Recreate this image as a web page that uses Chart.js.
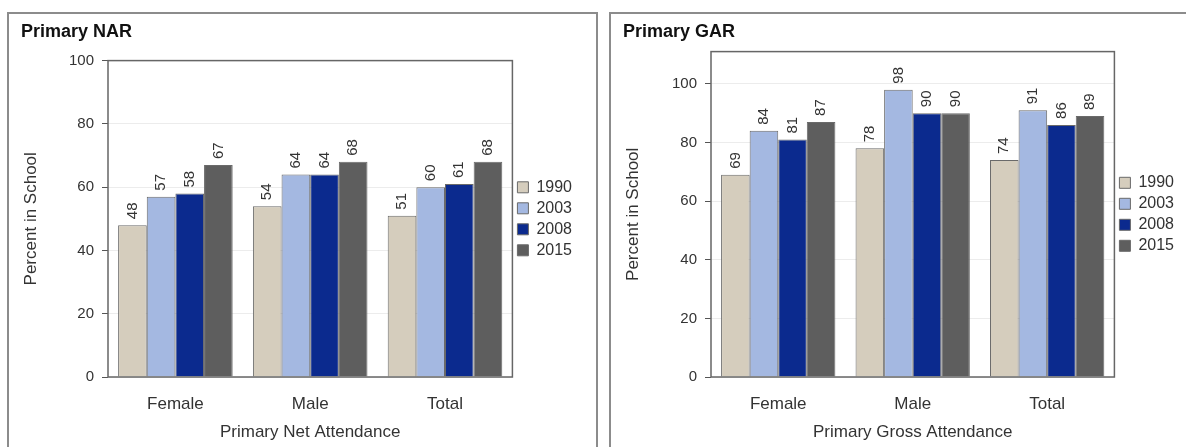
<!DOCTYPE html>
<html lang="en">
<head>
  <meta charset="UTF-8">
  <title>Primary NAR and GAR</title>

  <!-- Chart.js CDN -->
  <script src="https://cdn.jsdelivr.net/npm/chart.js"></script>

  <style>
    body {
      margin: 0;
      width: 1186px;
      height: 447px;
      overflow: hidden;
      position: relative;
      background: #ffffff;
      font-family: 'Liberation Sans', Arial, sans-serif;
    }
    .panel {
      position: absolute;
      top: 12px;
      height: 470px;
      border: 2px solid #8c8c8c;
      box-sizing: border-box;
      background: #ffffff;
    }
    .panel canvas {
      position: absolute;
      left: 0;
      top: 0;
    }
  </style>
</head>
<body>

  <!-- Left panel: net attendance -->
  <div class="panel" style="left:7px; width:591px;">
    <canvas id="narChart" width="587" height="433"></canvas>
  </div>

  <!-- Right panel: gross attendance -->
  <div class="panel" style="left:609px; width:600px;">
    <canvas id="garChart" width="575" height="433"></canvas>
  </div>

  <script>
    // Chart data
    const categories = ['Female', 'Male', 'Total'];
    const years = ['1990', '2003', '2008', '2015'];
    const yearColors = ['#d5cdbd', '#a4b8e1', '#0b2a8e', '#5e5e5e'];

    const nar1990 = [48, 54, 51];
    const nar2003 = [57, 64, 60];
    const nar2008 = [58, 64, 61];
    const nar2015 = [67, 68, 68];

    const gar1990 = [69, 78, 74];
    const gar2003 = [84, 98, 91];
    const gar2008 = [81, 90, 86];
    const gar2015 = [87, 90, 89];

    const fontFamily = "'Liberation Sans', Arial, sans-serif";

    // Rotated value labels above each bar
    const valueLabels = {
      id: 'valueLabels',
      afterDatasetsDraw(chart) {
        const ctx = chart.ctx;
        ctx.save();
        ctx.font = '15px ' + fontFamily;
        ctx.fillStyle = '#333';
        ctx.textAlign = 'left';
        ctx.textBaseline = 'middle';
        chart.data.datasets.forEach((ds, i) => {
          chart.getDatasetMeta(i).data.forEach((bar, j) => {
            ctx.save();
            ctx.translate(bar.x, bar.y - 6);
            ctx.rotate(-Math.PI / 2);
            ctx.fillText(ds.data[j], 0, 0);
            ctx.restore();
          });
        });
        ctx.restore();
      }
    };

    // Box around the plot area
    const plotFrame = {
      id: 'plotFrame',
      afterDraw(chart) {
        const { ctx, chartArea: a } = chart;
        ctx.save();
        ctx.strokeStyle = '#666';
        ctx.lineWidth = 1.5;
        ctx.strokeRect(a.left, a.top, a.right - a.left, a.bottom - a.top);
        ctx.restore();
      }
    };

    function makeChart(id, title, xTitle, series, yMax, titleGap, yWidth, padRight) {
      const ctx = document.getElementById(id).getContext('2d');
      return new Chart(ctx, {
        type: 'bar',
        data: {
          labels: categories,
          datasets: series.map((values, i) => ({
            label: years[i],
            data: values,
            backgroundColor: yearColors[i],
            borderColor: '#6a6a6a',
            borderWidth: 1,
            categoryPercentage: 0.85,
            barPercentage: 1.0
          }))
        },
        options: {
          responsive: false,
          animation: false,
          layout: { padding: { left: 12, right: padRight, top: 0, bottom: 0 } },
          plugins: {
            title: {
              display: true,
              text: title,
              align: 'start',
              color: '#111',
              font: { family: fontFamily, size: 18, weight: 'bold' },
              padding: { top: 7, bottom: titleGap }
            },
            legend: {
              position: 'right',
              fullSize: false,
              labels: {
                boxWidth: 11,
                boxHeight: 11,
                padding: 5,
                color: '#333',
                font: { family: fontFamily, size: 16 }
              }
            },
            tooltip: { enabled: false }
          },
          scales: {
            x: {
              grid: { display: false },
              border: { display: false },
              ticks: { color: '#333', padding: 9, font: { family: fontFamily, size: 17 } },
              title: {
                display: true,
                text: xTitle,
                color: '#333',
                font: { family: fontFamily, size: 17 },
                padding: { top: 0, bottom: 4 }
              },
              afterFit(scale) { scale.height = 70; }
            },
            y: {
              min: 0,
              max: yMax,
              grid: { color: '#ececec', tickColor: '#555', tickLength: 6 },
              border: { display: false },
              ticks: {
                stepSize: 20,
                includeBounds: false,
                padding: 8,
                color: '#333',
                font: { family: fontFamily, size: 15 }
              },
              title: {
                display: true,
                text: 'Percent in School',
                color: '#333',
                font: { family: fontFamily, size: 17 },
                padding: { top: 0, bottom: 0 }
              },
              afterFit(scale) { scale.width = yWidth; }
            }
          }
        },
        plugins: [valueLabels, plotFrame]
      });
    }

    makeChart('narChart', 'Primary NAR', 'Primary Net Attendance',
      [nar1990, nar2003, nar2008, nar2015], 100, 18, 87, 14);
    makeChart('garChart', 'Primary GAR', 'Primary Gross Attendance',
      [gar1990, gar2003, gar2008, gar2015], 111, 9, 88, 2);
  </script>

</body>
</html>
